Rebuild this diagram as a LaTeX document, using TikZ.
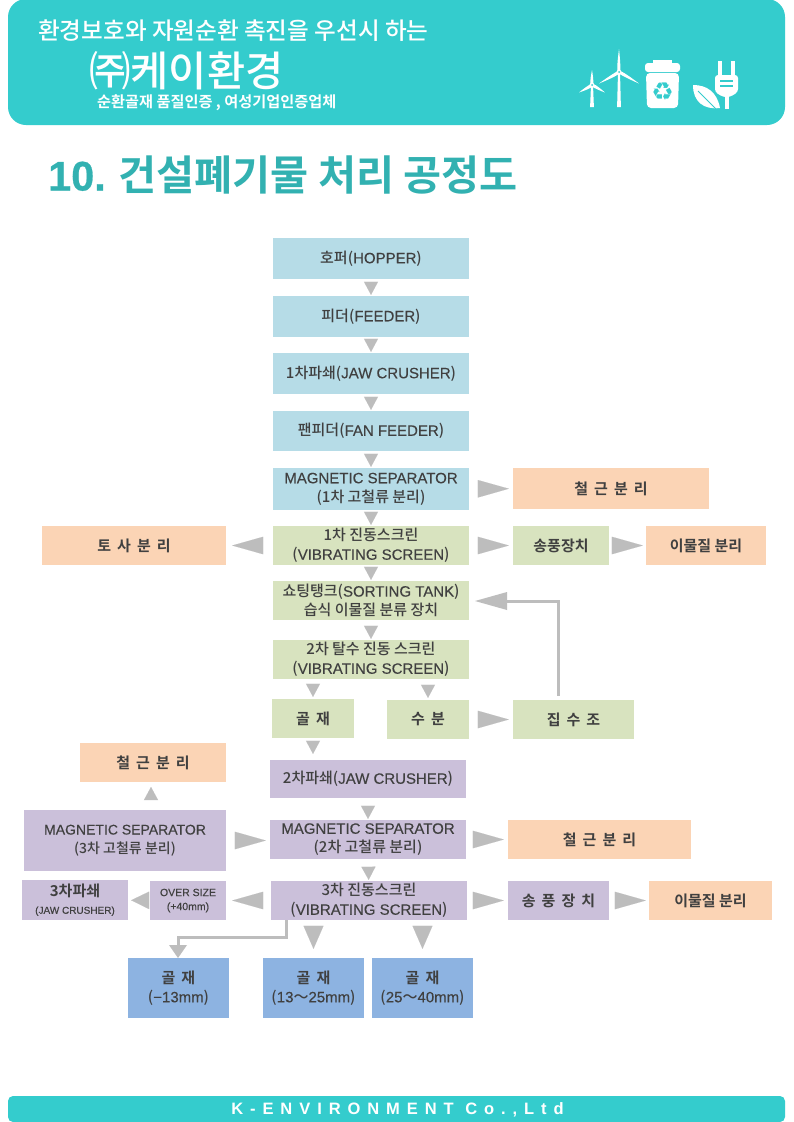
\documentclass[tikz,border=0pt]{standalone}
\usepackage{fontspec}
\setmainfont{Noto Sans CJK KR Medium}[BoldFont={Noto Sans CJK KR Bold}]
\newfontfamily\lat[FakeBold=0.25]{Liberation Sans}
\newfontfamily\latb[FakeBold=0.6]{Liberation Sans}
\newfontfamily\latf[LetterSpace=42]{Liberation Sans}
\usetikzlibrary{arrows.meta}
\definecolor{teal1}{HTML}{34CCCD}
\definecolor{title}{HTML}{32B1B1}
\definecolor{cblue}{HTML}{B6DCE7}
\definecolor{cgreen}{HTML}{D8E3BF}
\definecolor{cpurple}{HTML}{CBC0DA}
\definecolor{corange}{HTML}{FBD4B5}
\definecolor{csky}{HTML}{8DB3E1}
\definecolor{agray}{HTML}{BDBDBD}
\definecolor{tx}{HTML}{404040}
\newcommand{\wsp}{\bfseries\spaceskip=6pt\relax}
\newcommand{\smf}{\fontsize{10.5}{14}\selectfont}
\tikzset{
 box/.style={inner sep=0pt,align=center,text=tx,font=\fontsize{15}{19}\selectfont},
 flow/.style={draw=white,line width=0.05pt,shorten >=#1},
 flow/.default=1pt,
 sm/.style={-{Triangle[length=13pt,width=14pt,color=agray,fill=agray]}},
 md/.style={-{Triangle[length=18pt,width=17.5pt,color=agray,fill=agray]}},
 lg/.style={-{Triangle[length=31pt,width=17.5pt,color=agray,fill=agray]}},
 vg/.style={-{Triangle[length=23pt,width=20pt,color=agray,fill=agray]}},
 pipe/.style={draw=agray,line width=3pt},
}
% name, x1, y1, x2, y2, colour, text
\newcommand{\bx}[7]{\node[box,fill=#6,minimum width={(#4-#2)*1pt},minimum height={(#5-#3)*1pt}] (#1) at ({(#2+#4)/2},{(#3+#5)/2}) {#7};}
\newcommand{\turbine}[4]{% x y(hub) height blade
 \fill[white] (#1-1,#2) -- (#1+1,#2) -- (#1+1.9,#2+#3) -- (#1-1.9,#2+#3) -- cycle;
 \foreach \a in {90,210,330}{\fill[white,shift={(#1,#2)},rotate=\a] (0,-1.5) .. controls ({#4*.3},-2.2) and ({#4*.7},-.8) .. (#4,0) .. controls ({#4*.7},.8) and ({#4*.3},1.5) .. (0,1.5) -- cycle;}
 \fill[white] (#1,#2) circle (2.3pt);
 \fill[teal1] (#1,#2) circle (1pt);
}
\begin{document}
\begin{tikzpicture}[x=1pt,y=-1pt]
\useasboundingbox (0,0) rectangle (793,1122);
\fill[white] (0,0) rectangle (793,1122);
% header
\fill[teal1,rounded corners=18pt] (8,-1) rectangle (785,125);
\node[anchor=west,text=white,inner sep=0pt,font=\fontsize{23.6}{26}\selectfont] (slogan) at (38,31) {환경보호와 자원순환 촉진을 우선시 하는};
\node[anchor=west,text=white,inner sep=0pt,font=\fontsize{41.5}{44}\selectfont] (company) at (89,71) {㈜케이환경};
\node[anchor=west,text=white,inner sep=0pt,font=\bfseries\fontsize{15.2}{18}\selectfont] (cert) at (97,103) {순환골재 품질인증 , 여성기업인증업체};
% icons
\turbine{592}{85}{22}{15}
\turbine{619}{72}{35}{23}
\fill[white] (653,60) rectangle (672,65);
\fill[white,rounded corners=3pt] (645,63) rectangle (680,72);
\fill[white,rounded corners=4pt] (646,73) -- (679,73) -- (678,108) -- (647,108) -- cycle;
\node[text=teal1,inner sep=0pt,font=\fontsize{25}{25}\selectfont] (recycle) at (662.5,92) {\fontspec{DejaVu Sans}♻};
\fill[white] (718,61) rectangle (722,76);
\fill[white] (731,61) rectangle (735,76);
\fill[white,rounded corners=3pt] (715,75) -- (738,75) -- (738,92) -- (730,97) -- (723,97) -- (715,92) -- cycle;
\fill[white] (724.5,95) rectangle (728.5,109);
\fill[teal1] (720,80) rectangle (733,82);
\fill[teal1] (720,85) rectangle (733,87);
\fill[white] (693,85) .. controls (707,85) and (717,92) .. (720,108) .. controls (704,110) and (693,102) .. (693,85) -- cycle;
\draw[teal1,line width=1pt] (698,91) -- (716,109);
% title
\node[anchor=west,text=title,inner sep=0pt,font=\bfseries\fontsize{41.4}{44}\selectfont] (ttl) at (48,175) {{\latb 10.} 건설폐기물 처리 공정도};
% main column
\bx{hopper}{273}{238}{469}{279}{cblue}{호퍼({\lat HOPPER})}
\bx{feeder}{273}{296}{469}{337}{cblue}{피더({\lat FEEDER})}
\bx{jaw}{273}{353}{469}{394}{cblue}{1차파쇄({\lat JAW CRUSHER})}
\bx{fan}{273}{411}{469}{451}{cblue}{팬피더({\lat FAN FEEDER})}
\bx{magA}{273}{468}{469}{510}{cblue}{{\lat MAGNETIC SEPARATOR}\\(1차 고철류 분리)}
\bx{vibA}{273}{526}{469}{565}{cgreen}{1차 진동스크린\\({\lat VIBRATING SCREEN})}
\bx{sort}{273}{581}{469}{620}{cgreen}{쇼팅탱크({\lat SORTING TANK})\\습식 이물질 분류 장치}
\bx{dew}{273}{640}{469}{679}{cgreen}{2차 탈수 진동 스크린\\({\lat VIBRATING SCREEN})}
\bx{golA}{272}{699}{354}{738}{cgreen}{\wsp 골 재}
\bx{water}{387}{700}{469}{739}{cgreen}{\wsp 수 분}
\bx{sump}{513}{700}{634}{739}{cgreen}{\wsp 집 수 조}
\bx{ironA}{513}{468}{709}{509}{corange}{\wsp 철 근 분 리}
\bx{blowA}{513}{526}{609}{565}{cgreen}{\bfseries 송풍장치}
\bx{forA}{646}{526}{766}{565}{corange}{\bfseries 이물질 분리}
\bx{soil}{42}{526}{226}{565}{corange}{\wsp 토 사 분 리}
\bx{jawB}{270}{760}{466}{798}{cpurple}{2차파쇄({\lat JAW CRUSHER})}
\bx{magB}{270}{820}{466}{859}{cpurple}{{\lat MAGNETIC SEPARATOR}\\(2차 고철류 분리)}
\bx{vibC}{271}{881}{467}{920}{cpurple}{3차 진동스크린\\({\lat VIBRATING SCREEN})}
\bx{ironB}{508}{820}{691}{859}{corange}{\wsp 철 근 분 리}
\bx{magC}{24}{810}{226}{871}{cpurple}{{\lat\fontsize{14}{17.5}\selectfont MAGNETIC SEPARATOR}\\{\fontsize{14}{17.5}\selectfont (3차 고철류 분리)}}
\bx{ironC}{80}{743}{226}{782}{corange}{\wsp 철 근 분 리}
\bx{over}{150}{881}{226}{920}{cpurple}{{\lat\smf OVER SIZE}\\[-5pt]{\lat\smf (+40mm)}}
\bx{jawC}{22}{880}{128}{920}{cpurple}{{\bfseries 3차파쇄}\\[-2pt]{\lat\fontsize{10}{13}\selectfont (JAW CRUSHER)}}
\bx{blowB}{508}{881}{609}{920}{cpurple}{\wsp 송 풍 장 치}
\bx{forB}{649}{881}{772}{920}{corange}{\bfseries 이물질 분리}
\bx{golB}{128}{958}{229}{1018}{csky}{{\wsp 골 재}\\({\lat −13mm})}
\bx{golC}{263}{958}{364}{1018}{csky}{{\wsp 골 재}\\({\lat 13}～{\lat 25mm})}
\bx{golD}{372}{958}{473}{1018}{csky}{{\wsp 골 재}\\({\lat 25}～{\lat 40mm})}
% down arrows
\foreach \a/\b in {hopper/feeder,feeder/jaw,jaw/fan,fan/magA,magA/vibA,vibA/sort,sort/dew,jawB/magB,magB/vibC}
  \draw[flow,sm] (\a) -- (\b);
\draw[flow=2pt,sm] (dew.south -| golA.north) -- (golA.north);
\draw[flow=2pt,sm] (dew.south -| water.north) -- (water.north);
\draw[flow=6pt,sm] (golA.south) -- (golA.south |- jawB.north);
\coordinate (up) at (151,787);
\draw[flow=0pt,sm] (magC.north -| up) -- (up);
% right/left arrows
\foreach \a/\b in {magA/ironA,vibA/blowA,water/sump,magB/ironB,vibC/blowB}
  \draw[flow=4pt,lg] (\a) -- (\b);
\foreach \a/\b in {blowA/forA,blowB/forB}
  \draw[flow=3pt,lg] (\a) -- (\b);
\draw[flow=4pt,lg] (magC) -- (magC -| magB.west);
\draw[flow=6pt,lg] (vibA) -- (soil);
\draw[flow=6pt,lg] (vibC) -- (over);
\draw[flow=3pt,md] (over) -- (jawC);
% screen to aggregates
\draw[flow=9pt,vg] (golC.north |- vibC.south) -- (golC.north);
\draw[flow=9pt,vg] (golD.north |- vibC.south) -- (golD.north);
% return and pipe connectors
\coordinate (q1) at (558,601);
\coordinate (q2) at (286,937);
\coordinate (q3) at (178,937);
\draw[pipe] ([yshift=4pt]sump.north -| q1) -- (q1) -- (505,601);
\fill[agray] (475,601) -- (507,592) -- (507,610) -- cycle;
\draw[pipe] (vibC.south -| q2) -- (q2) -- (q3) -- ++(0,9);
\fill[agray] (178,958) -- (169,945) -- (187,945) -- cycle;
% footer
\fill[teal1,rounded corners=5pt] (8,1096) rectangle (785,1122);
\node[text=white,inner sep=0pt,font=\bfseries\fontsize{16.5}{18}\selectfont] (foot) at (397.5,1110) {\latf\bfseries K-ENVIRONMENT Co.,Ltd};
\end{tikzpicture}
\end{document}
